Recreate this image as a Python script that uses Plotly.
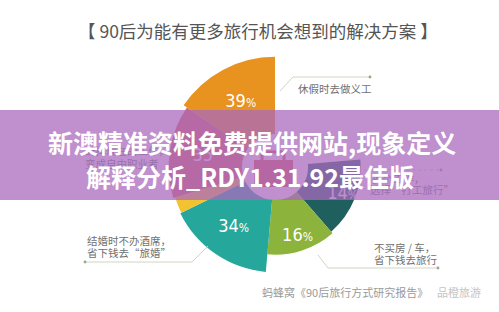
import plotly.graph_objects as go

# ---- data ----
categories = ["换个工作，选择“打工旅行”", "不买房 / 车，省下钱去旅行", "结婚时不办酒席，省下钱去“旅婚”",
              "", "辞掉现在的工作，变成自由职业者", "休假时去做义工"]
values = [14, 16, 34, 33, 35, 39]          # percent
value_text = ["14%", "16%", "34%", "", "35", "39%"]
colors = ["#1f5f5d", "#8cb33b", "#25a89b", "#f2c230", "#dc6a5c", "#e8921f"]

title_text = "【 90后为能有更多旅行机会想到的解决方案 】"
banner_lines = ["新澳精准资料免费提供网站,现象定义", "解释分析_RDY1.31.92最佳版"]
source_text = "蚂蜂窝《90后旅行方式研究报告》"
watermark_text = "品橙旅游"

# ---- style / geometry ----
W, H = 499, 312
CX, CY, HALF = 275, 167, 120
HOLE = 33
R0, K = 72, 0.98
sweeps = [54, 46, 59, 9, 51, 56]
START = 85
TEXT_R = 73

thetas, acc = [], START
for s in sweeps:
    thetas.append(acc + s / 2)
    acc += s
outer = [R0 + K * v - HOLE for v in values]

def px(x):
    return x / W

def py(y):
    return 1 - y / H

fig = go.Figure()
fig.add_trace(go.Barpolar(
    r=outer, theta=thetas, width=sweeps, base=HOLE,
    marker=dict(color=colors, line=dict(width=0)),
    hoverinfo="skip", showlegend=False))

pct_html = [t.replace("%", "<span style='font-size:12px'>%</span>") for t in value_text]
fig.add_trace(go.Scatterpolar(
    r=[TEXT_R] * len(values), theta=thetas, mode="text", text=pct_html,
    textfont=dict(color="white", size=18, family="Liberation Sans Narrow, DejaVu Sans Condensed, Roboto"),
    hoverinfo="skip", showlegend=False))

fig.update_layout(
    width=W, height=H, margin=dict(l=0, r=0, t=0, b=0),
    paper_bgcolor="white", plot_bgcolor="white",
    polar=dict(
        domain=dict(x=[px(CX - HALF), px(CX + HALF)], y=[py(CY + HALF), py(CY - HALF)]),
        bgcolor="rgba(0,0,0,0)",
        radialaxis=dict(range=[0, HALF], visible=False, showgrid=False),
        angularaxis=dict(direction="clockwise", rotation=90, visible=False, showgrid=False),
    ),
)

LINE = "#cfd6c2"
DOT = "#98a58a"
shapes = []

def seg(pts, color=LINE, dash=None):
    path = "M " + " L ".join(f"{px(x)},{py(y)}" for x, y in pts)
    shapes.append(dict(type="path", path=path, xref="paper", yref="paper",
                       line=dict(color=color, width=1, dash=dash), layer="above"))

def dot(x, y, color=DOT):
    r = 1.4
    shapes.append(dict(type="circle", xref="paper", yref="paper",
                       x0=px(x - r), x1=px(x + r), y0=py(y + r), y1=py(y - r),
                       fillcolor=color, line=dict(width=0), layer="above"))

# leader lines
seg([(280, 91), (293, 77), (370, 77)]); dot(370, 77)
seg([(208, 246), (192, 262), (85, 262)]); dot(85, 262)
seg([(318, 255), (328, 268), (438, 268)]); dot(438, 268)
seg([(352, 170), (441, 170)], dash="dot"); dot(441, 170)

# suitcase icon in the hole
shapes.append(dict(type="rect", xref="paper", yref="paper",
                   x0=px(262), x1=px(284), y0=py(162), y1=py(152),
                   line=dict(color="#d95d52", width=3), fillcolor="rgba(0,0,0,0)", layer="above"))
shapes.append(dict(type="rect", xref="paper", yref="paper",
                   x0=px(254), x1=px(293), y0=py(187), y1=py(160),
                   line=dict(width=0), fillcolor="#d95d52", layer="above"))

# banner overlay
shapes.append(dict(type="rect", xref="paper", yref="paper",
                   x0=0, x1=1, y0=py(200), y1=py(110),
                   line=dict(width=0), fillcolor="rgba(170,105,190,0.75)", layer="above"))
fig.update_layout(shapes=shapes)

CJK = "Noto Sans CJK SC"
ann = []

def text(x, y, s, size, color, anchor="left", bold=False):
    ann.append(dict(x=px(x), y=py(y), xref="paper", yref="paper", text=("<b>%s</b>" % s) if bold else s,
                    showarrow=False, xanchor=anchor, yanchor="middle",
                    font=dict(family=CJK, size=size, color=color)))

text(257.5, 31, title_text, 17.5, "#555555", "center")
text(296, 88, categories[5], 10.5, "#707070")
LBL = "#707070"
FAINT = "rgba(115,80,140,0.5)"
text(83, 150, "辞掉现在的工作，", 10.5, FAINT)
text(83, 163, "变成自由职业者", 10.5, FAINT)
text(370, 178, "换个工作，", 10.5, FAINT)
text(368, 190, "选择“打工旅行”", 10.5, FAINT)
text(85, 240, "结婚时不办酒席，", 10.5, LBL)
text(85, 252, "省下钱去“旅婚”", 10.5, LBL)
text(372, 247, "不买房 / 车，", 10.5, LBL)
text(372, 259, "省下钱去旅行", 10.5, LBL)
text(260, 292, source_text, 11, "#9a9a9a")
text(483, 292, watermark_text, 11, "#c4c4c4", "right")
text(W / 2 + 2, 142, banner_lines[0], 25, "white", "center", bold=True)
text(W / 2, 176, banner_lines[1], 25, "white", "center", bold=True)
fig.update_layout(annotations=ann)

fig.write_html("out.html")
